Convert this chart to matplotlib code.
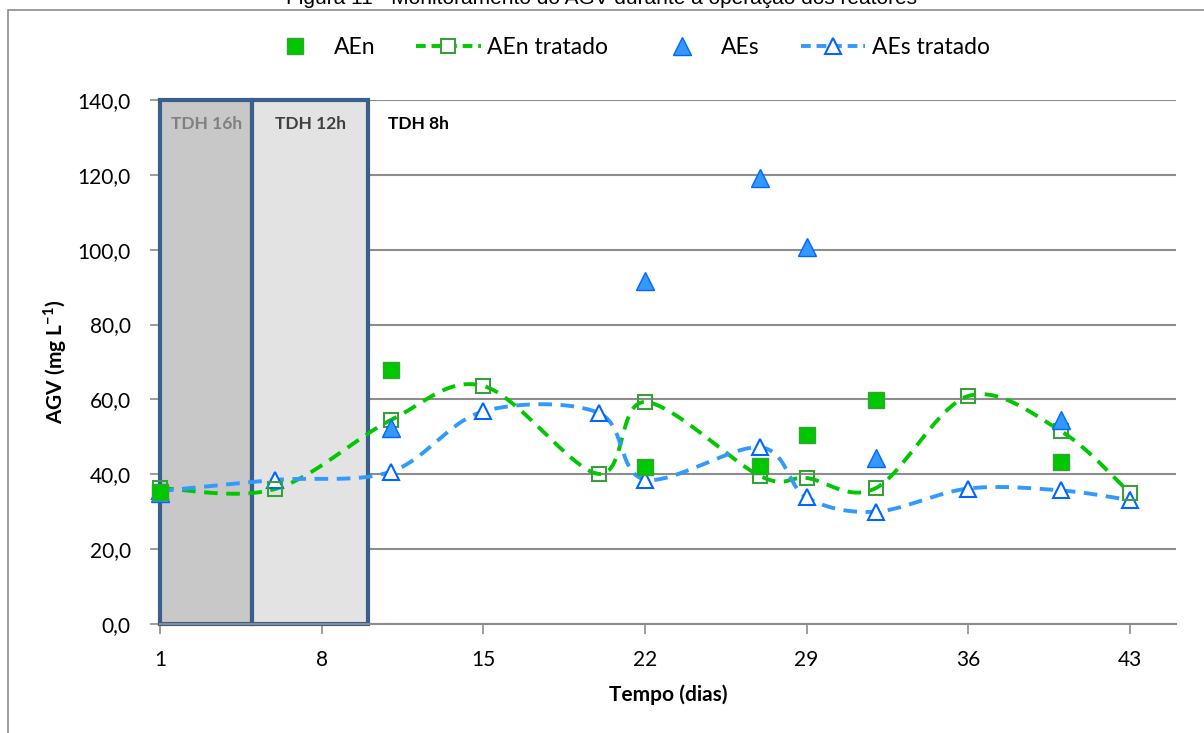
import matplotlib.pyplot as plt
import numpy as np
from matplotlib.lines import Line2D
from matplotlib.patches import Rectangle

# Monitoramento do AGV (mg/L) ao longo da operação
dias_aen = [1, 11, 22, 27, 29, 32, 40]
aen = [35.3, 67.9, 41.9, 42.3, 50.5, 59.8, 43.3]

dias_aen_trat = [1, 6, 11, 15, 20, 22, 27, 29, 32, 36, 40, 43]
aen_trat = [36.3, 36.1, 54.5, 63.6, 40.1, 59.3, 39.5, 39.0, 36.3, 60.9, 51.6, 35.0]

dias_aes = [1, 11, 22, 27, 29, 32, 40]
aes = [35.0, 52.4, 91.6, 119.2, 100.7, 44.3, 54.5]

dias_aes_trat = [1, 6, 11, 15, 20, 22, 27, 29, 32, 36, 40, 43]
aes_trat = [35.5, 38.5, 40.7, 56.8, 56.4, 38.6, 47.2, 33.8, 30.0, 36.2, 35.7, 33.1]

# fases de TDH (inicio, fim, rotulo)
fases = [(1, 5, 'TDH 16h'), (5, 10, 'TDH 12h')]

plt.rcParams['font.family'] = ['Lato', 'DejaVu Sans']
plt.rcParams['mathtext.fontset'] = 'custom'
plt.rcParams['mathtext.rm'] = 'Lato'
plt.rcParams['mathtext.bf'] = 'Lato:bold'


def curva_suave(x, y, n=40):
    # linha suavizada (bezier tipo Catmull-Rom, como no Excel)
    pts = np.column_stack([x, y]).astype(float)
    ext = np.vstack([pts[0], pts, pts[-1]])
    t = np.linspace(0, 1, n)[:, None]
    partes = []
    for i in range(len(pts) - 1):
        p0, p1, p2, p3 = ext[i], ext[i + 1], ext[i + 2], ext[i + 3]
        c1 = p1 + (p2 - p0) / 6
        c2 = p2 - (p3 - p1) / 6
        seg = (1 - t)**3 * p1 + 3 * (1 - t)**2 * t * c1 + 3 * (1 - t) * t**2 * c2 + t**3 * p2
        partes.append(seg)
    c = np.vstack(partes)
    return c[:, 0], c[:, 1]


verde = '#00C800'
verde_borda = '#3A9E3A'
azul = '#3399FF'
azul_borda = '#0066FF'

fig = plt.figure(figsize=(12.04, 7.33), dpi=100)
ax = fig.add_axes([160 / 1204, 1 - 624 / 733, 1016 / 1204, 524 / 733])

# moldura externa
fig.patches.append(Rectangle((8 / 1204, -0.05), 1.1, 1 - 10 / 733 + 0.05, transform=fig.transFigure,
                             fill=False, edgecolor='#8C8C8C', linewidth=1.2))

fig.text(0.5, 1 - 4 / 733, 'Figura 11 - Monitoramento do AGV durante a operação dos reatores',
         ha='center', va='baseline', fontsize=15, family='Liberation Sans', color='black')

ax.set_xlim(1, 45)
ax.set_ylim(0, 140)
ax.set_xticks(np.arange(1, 44, 7))
ax.set_yticks(np.arange(0, 141, 20))
ax.set_yticklabels([f'{v:.1f}'.replace('.', ',') for v in np.arange(0, 141, 20)])
ax.yaxis.grid(True, color='#8C8C8C', linewidth=1.5, zorder=0)
ax.set_axisbelow(True)
for lado in ['top', 'right', 'left']:
    ax.spines[lado].set_visible(False)
ax.spines['bottom'].set_color('#8C8C8C')
ax.spines['bottom'].set_linewidth(1.5)
ax.tick_params(axis='both', colors='#8C8C8C', labelcolor='black', labelsize=15, length=7, width=1.2)
ax.tick_params(axis='y', pad=14)
ax.tick_params(axis='x', pad=12)

# faixas de TDH
cores_fase = ['#C8C8C8', '#E3E3E3']
cores_txt = ['#808080', '#404040']
for (ini, fim, rot), cf, ct in zip(fases, cores_fase, cores_txt):
    ax.add_patch(Rectangle((ini, 0), fim - ini, 140, facecolor=cf, edgecolor='#3A5F8B',
                           linewidth=3, zorder=1, clip_on=False))
    ax.text((ini + fim) / 2, 133.5, rot, ha='center', va='center', fontsize=12.5,
            fontweight='bold', color=ct, zorder=2)
ax.text(12.2, 133.5, 'TDH 8h', ha='center', va='center', fontsize=12.5, fontweight='bold', color='black')

# linhas suavizadas dos tratados
xs, ys = curva_suave(dias_aen_trat, aen_trat)
ax.plot(xs, ys, color=verde, linewidth=2.8, dashes=(3.5, 2.2), zorder=3, clip_on=False)
xs, ys = curva_suave(dias_aes_trat, aes_trat)
ax.plot(xs, ys, color=azul, linewidth=2.8, dashes=(3.5, 2.2), zorder=3, clip_on=False)

ax.plot(dias_aes_trat, aes_trat, linestyle='none', marker='^', markersize=12, markerfacecolor='white',
        markeredgecolor=azul_borda, markeredgewidth=1.5, zorder=4, clip_on=False)
ax.plot(dias_aen_trat, aen_trat, linestyle='none', marker='s', markersize=9.5, markerfacecolor='none',
        markeredgecolor=verde_borda, markeredgewidth=1.5, zorder=4, clip_on=False)
ax.plot(dias_aes, aes, linestyle='none', marker='^', markersize=13, markerfacecolor=azul,
        markeredgecolor=azul_borda, markeredgewidth=1.0, zorder=5, clip_on=False)
ax.plot(dias_aen, aen, linestyle='none', marker='s', markersize=12, markerfacecolor=verde,
        markeredgecolor=verde_borda, markeredgewidth=1.0, zorder=6, clip_on=False)

ax.set_xlabel('Tempo (dias)', fontsize=15, fontweight='bold', labelpad=10)
ax.set_ylabel(r'AGV (mg L$^{\mathbf{-1}}$)', fontsize=15, fontweight='bold', labelpad=6)

handles = [
    Line2D([], [], linestyle='none', marker='s', markersize=12, markerfacecolor=verde,
           markeredgecolor=verde_borda),
    Line2D([], [], color=verde, linewidth=2.8, dashes=(2.5, 1.5), marker='s', markersize=9.5,
           markerfacecolor='white', markeredgecolor=verde_borda, markeredgewidth=1.5),
    Line2D([], [], linestyle='none', marker='^', markersize=13, markerfacecolor=azul,
           markeredgecolor=azul_borda),
    Line2D([], [], color=azul, linewidth=2.8, dashes=(2.5, 1.5), marker='^', markersize=12,
           markerfacecolor='white', markeredgecolor=azul_borda, markeredgewidth=1.5),
]
fig.legend(handles, ['AEn', 'AEn tratado', 'AEs', 'AEs tratado'], loc='center',
           bbox_to_anchor=(626 / 1204, 1 - 48 / 733), ncol=4, frameon=False, fontsize=16.5,
           handlelength=2.8, handletextpad=0.3, columnspacing=1.8, numpoints=1)

fig.savefig('out.png', dpi=100)
